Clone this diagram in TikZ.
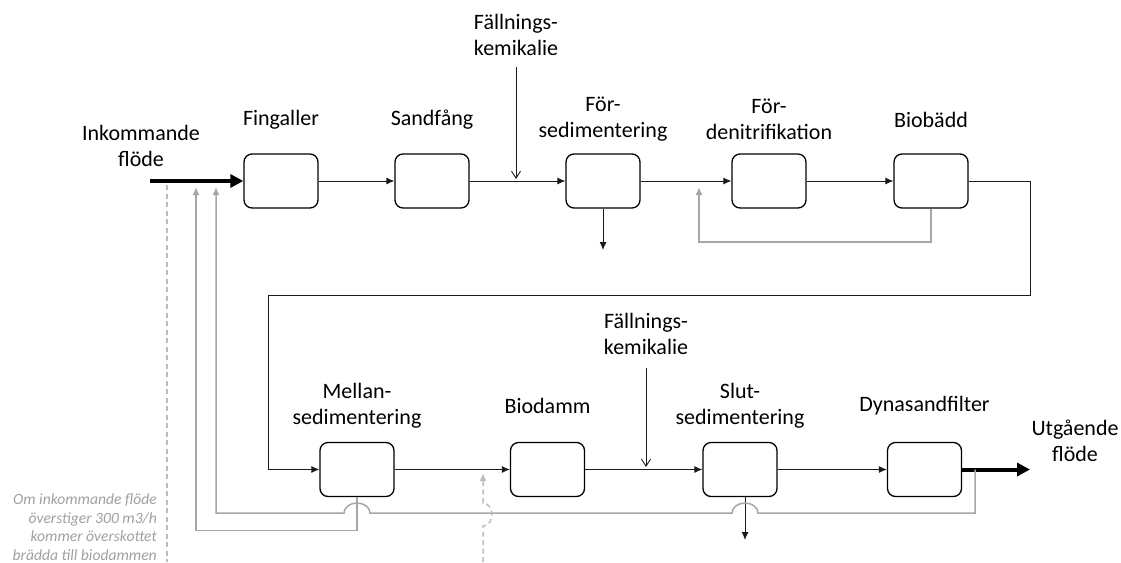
\documentclass[tikz,border=0pt]{standalone}
\usepackage{fontspec}
\setmainfont{Carlito}
\usetikzlibrary{arrows.meta,calc}

\definecolor{ink}{HTML}{1A1A1A}
\definecolor{ret}{HTML}{A6A6A6}
\definecolor{ovf}{HTML}{BDBDBD}
\definecolor{notegray}{HTML}{A0A0A0}

\begin{document}
\begin{tikzpicture}[x=1pt,y=-1pt,
  unit/.style={draw=black,line width=1.3pt,rounded corners=8pt,
    minimum width=74pt,minimum height=54pt,inner sep=0pt},
  lbl/.style={font=\fontsize{22}{26}\selectfont,align=center,inner sep=0pt},
  flow/.style={draw=ink,line width=0.9pt,-{Latex[length=8pt,width=7pt]}},
  chem/.style={draw=ink,line width=0.9pt,-{Straight Barb[length=7pt,width=9pt]}},
  main/.style={draw=black,line width=4pt,-{Triangle[length=13pt,width=13pt]}},
  back/.style={draw=ret,line width=1.5pt,-{Latex[length=8pt,width=7pt]}},
  over/.style={draw=ovf,line width=1.5pt,dash pattern=on 5pt off 3.5pt},
  notetext/.style={font=\itshape\fontsize{15.6}{18.5}\selectfont,text=notegray,
    align=right,inner sep=0pt}
]
\useasboundingbox (0,0) rectangle (1121,562);

% ---- upper line of process units ----
\node[unit] (fin) at (281,181) {};
\node[unit] (san) at (432,181) {};
\node[unit] (fsd) at (603,181) {};
\node[unit] (fdn) at (769,181) {};
\node[unit] (bio) at (931,181) {};

% ---- lower line of process units ----
\node[unit] (mel) at (357,469.5) {};
\node[unit] (bdm) at (547.5,469.5) {};
\node[unit] (slu) at (740,469.5) {};
\node[unit] (dyn) at (924.5,469.5) {};

% ---- labels ----
\node[lbl] (in-l)  at (141,146) {Inkommande\\flöde};
\node[lbl] (fin-l) at (281,120) {Fingaller};
\node[lbl] (san-l) at (432,120) {Sandfång};
\node[lbl] (fsd-l) at (603,119) {För-\\sedimentering};
\node[lbl] (fdn-l) at (769,119) {För-\\denitrifikation};
\node[lbl] (bio-l) at (931,120) {Biobädd};
\node[lbl] (ch1-l) at (516,35) {Fällnings-\\kemikalie};
\node[lbl] (mel-l) at (357,406) {Mellan-\\sedimentering};
\node[lbl] (bdm-l) at (547.5,406) {Biodamm};
\node[lbl] (ch2-l) at (646,334) {Fällnings-\\kemikalie};
\node[lbl] (slu-l) at (740,406) {Slut-\\sedimentering};
\node[lbl] (dyn-l) at (924.5,406) {Dynasandfilter};
\node[lbl] (out-l) at (1075,441) {Utgående\\flöde};

\node[notetext,anchor=south east] (note) at (157,560.5)
  {Om inkommande flöde\\överstiger 300 m3/h\\kommer överskottet\\brädda till biodammen};

% ---- free ends ----
\coordinate (src)  at (150,181);
\coordinate (dst)  at (1030,469.5);
\coordinate (c1a)  at (516,67);
\coordinate (c1b)  at (516,179);
\coordinate (c2a)  at (646,368);
\coordinate (c2b)  at (646,467);
\coordinate (sl1)  at (603,250);
\coordinate (sl2)  at (745,540);
\coordinate (rtop) at (1030,295);
\coordinate (ltop) at (268,295);
\coordinate (rfd)  at (699,187);
\coordinate (tap)  at (975,469.5);
\coordinate (rin1) at (216,187);
\coordinate (rin2) at (196,187);
\coordinate (ov1)  at (167,185);
\coordinate (ov1e) at (167,562);
\coordinate (ov2)  at (483,562);
\coordinate (ov2e) at (483,473);

% ---- main flow ----
\draw[main] (src) -- (fin.west);
\draw[flow] (fin) -- (san);
\draw[flow] (san) -- (fsd);
\draw[flow] (fsd) -- (fdn);
\draw[flow] (fdn) -- (bio);
\draw[flow] (bio.east) -| (rtop) -- (ltop) |- (mel.west);
\draw[flow] (mel) -- (bdm);
\draw[flow] (bdm) -- (slu);
\draw[flow] (slu) -- (dyn);
\draw[main] (dyn.east) -- (dst);

% ---- chemical dosing ----
\draw[chem] (c1a) -- (c1b);
\draw[chem] (c2a) -- (c2b);

% ---- sludge outlets ----
\draw[flow] (fsd.south) -- (sl1);
\draw[flow] ([xshift=5pt]slu.south) -- (sl2);

% ---- return flows ----
\draw[back] (bio.south) |- (931,242) -| (rfd);
\draw[back] (tap) -- (975,513) -- (758,513)
  arc[start angle=0,end angle=-180,x radius=13,y radius=10]
  -- (370,513)
  arc[start angle=0,end angle=-180,x radius=13,y radius=10]
  -- (216,513) -- (rin1);
\draw[back] (mel.south) -- (357,530.5) -| (rin2);

% ---- overflow bypass ----
\draw[over] (ov1) -- (ov1e);
\draw[over,-{Latex[length=8pt,width=7pt]}] (ov2) -- (483,526)
  arc[start angle=90,end angle=-90,x radius=9,y radius=11.5] -- (ov2e);
\end{tikzpicture}
\end{document}
